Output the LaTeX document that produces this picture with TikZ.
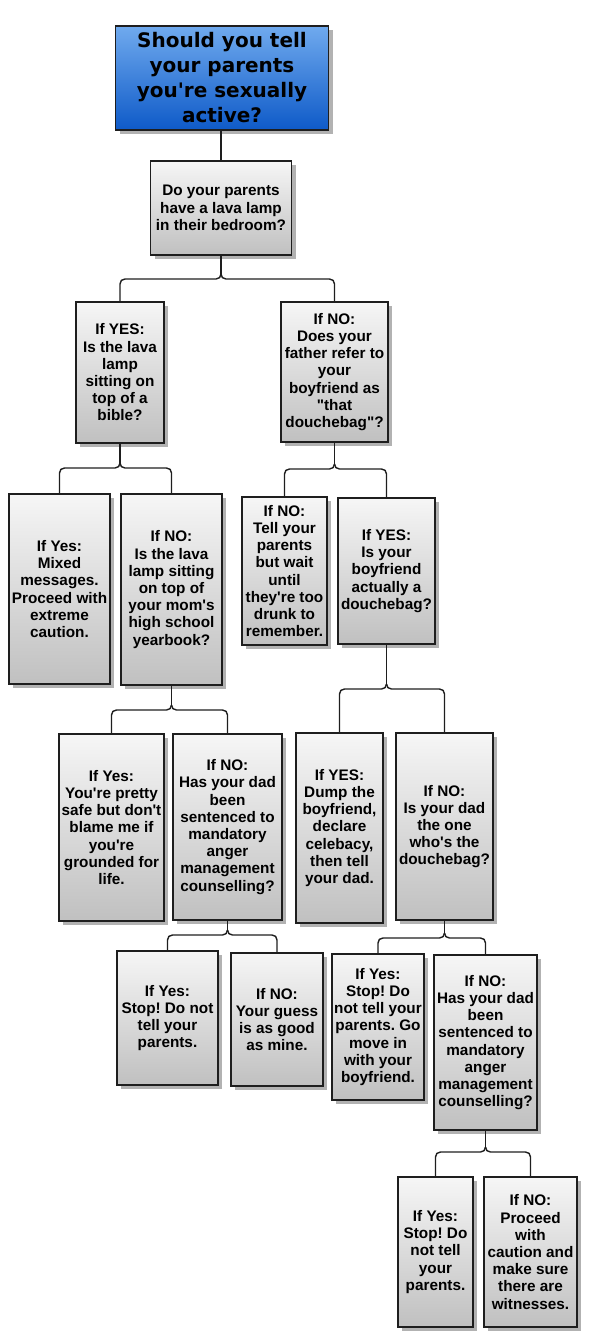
\documentclass[tikz,border=0pt]{standalone}
\usepackage{fontspec}
\setmainfont{Liberation Sans}[Ligatures=TeXOff]
\newfontfamily\titlefont{DejaVu Sans}[Ligatures=TeXOff]
\usetikzlibrary{shadows,calc}
\frenchspacing
\definecolor{boxtop}{RGB}{246,246,246}
\definecolor{boxbot}{RGB}{192,192,192}
\definecolor{bluetop}{RGB}{112,170,238}
\definecolor{bluebot}{RGB}{14,90,200}
\definecolor{linecol}{RGB}{30,30,30}
\tikzset{
  fcbox/.style={draw=linecol, line width=1.3pt, top color=boxtop, bottom color=boxbot,
    inner sep=0pt, align=center, font=\fontsize{15.3}{17.2}\selectfont\bfseries,
    drop shadow={shadow xshift=4pt, shadow yshift=-4pt, fill=black!30, opacity=1}},
  titlebox/.style={fcbox, top color=bluetop, bottom color=bluebot,
    font=\titlefont\fontsize{20}{25}\selectfont\bfseries},
  conn/.style={draw=linecol, line width=1.4pt}
}
\newcommand\fcbranch[4]{%
  \coordinate (tip) at (#1.south |- 0,#4);
  \draw[conn] (#1.south) -- ($(tip)+(0,-5)$);
  \draw[conn] (#2.north) -- ($(#2.north |- tip)+(0,5)$)
    .. controls ($(#2.north |- tip)+(0,2)$) and ($(#2.north |- tip)+(2,0)$) .. ($(#2.north |- tip)+(5,0)$)
    -- ($(tip)+(-5,0)$)
    .. controls ($(tip)+(-2,0)$) and ($(tip)+(0,-2)$) .. ($(tip)+(0,-5)$);
  \draw[conn] (#3.north) -- ($(#3.north |- tip)+(0,5)$)
    .. controls ($(#3.north |- tip)+(0,2)$) and ($(#3.north |- tip)+(-2,0)$) .. ($(#3.north |- tip)+(-5,0)$)
    -- ($(tip)+(5,0)$)
    .. controls ($(tip)+(2,0)$) and ($(tip)+(0,-2)$) .. ($(tip)+(0,-5)$);
}
\begin{document}
\begin{tikzpicture}[x=1pt,y=-1pt]
\useasboundingbox (0,0) rectangle (594,1344);
\node[titlebox, minimum width=213pt, minimum height=104pt] (top) at (222,78)
  {Should you tell\\your parents\\you're sexually\\active?};
\node[fcbox, minimum width=141pt, minimum height=94pt] (q1) at (221,208)
  {Do your parents\\have a lava lamp\\in their bedroom?};
\node[fcbox, minimum width=88pt, minimum height=141pt] (L1) at (120,372.5)
  {If YES:\\Is the lava\\lamp\\sitting on\\top of a\\bible?};
\node[fcbox, minimum width=107pt, minimum height=140pt] (R1) at (334.5,372)
  {If NO:\\Does your\\father refer to\\your\\boyfriend as\\"that\\douchebag"?};
\node[fcbox, minimum width=101pt, minimum height=190pt] (LL) at (59.5,589)
  {If Yes:\\Mixed\\messages.\\Proceed with\\extreme\\caution.};
\node[fcbox, minimum width=101pt, minimum height=191pt] (LR) at (171.5,589.5)
  {If NO:\\Is the lava\\lamp sitting\\on top of\\your mom's\\high school\\yearbook?};
\node[fcbox, minimum width=85pt, minimum height=148pt] (RL) at (284.5,571)
  {If NO:\\Tell your\\parents\\but wait\\until\\they're too\\drunk to\\remember.};
\node[fcbox, minimum width=97pt, minimum height=146pt] (RR) at (386.5,571)
  {If YES:\\Is your\\boyfriend\\actually a\\douchebag?};
\node[fcbox, minimum width=105pt, minimum height=187pt] (LRL) at (111.5,827.5)
  {If Yes:\\You're pretty\\safe but don't\\blame me if\\you're\\grounded for\\life.};
\node[fcbox, minimum width=109pt, minimum height=186pt] (LRR) at (227.5,827)
  {If NO:\\Has your dad\\been\\sentenced to\\mandatory\\anger\\management\\counselling?};
\node[fcbox, minimum width=87pt, minimum height=190pt] (RRL) at (339.5,828)
  {If YES:\\Dump the\\boyfriend,\\declare\\celebacy,\\then tell\\your dad.};
\node[fcbox, minimum width=97pt, minimum height=187pt] (RRR) at (444.5,826.5)
  {If NO:\\Is your dad\\the one\\who's the\\douchebag?};
\node[fcbox, minimum width=101pt, minimum height=134pt] (LRRL) at (167.5,1018)
  {If Yes:\\Stop! Do not\\tell your\\parents.};
\node[fcbox, minimum width=92pt, minimum height=133pt] (LRRR) at (277,1019.5)
  {If NO:\\Your guess\\is as good\\as mine.};
\node[fcbox, minimum width=92pt, minimum height=146pt] (RRRL) at (378,1027)
  {If Yes:\\Stop! Do\\not tell your\\parents. Go\\move in\\with your\\boyfriend.};
\node[fcbox, minimum width=103pt, minimum height=175pt] (RRRR) at (485.5,1042.5)
  {If NO:\\Has your dad\\been\\sentenced to\\mandatory\\anger\\management\\counselling?};
\node[fcbox, minimum width=75pt, minimum height=150pt] (F1) at (435.5,1252)
  {If Yes:\\Stop! Do\\not tell\\your\\parents.};
\node[fcbox, minimum width=93pt, minimum height=150pt] (F2) at (530.5,1252)
  {If NO:\\Proceed\\with\\caution and\\make sure\\there are\\witnesses.};
\draw[conn] (top.south -| q1.north) -- (q1.north);
\fcbranch{q1}{L1}{R1}{279}
\fcbranch{L1}{LL}{LR}{468}
\fcbranch{R1}{RL}{RR}{469}
\fcbranch{LR}{LRL}{LRR}{710}
\fcbranch{RR}{RRL}{RRR}{689}
\fcbranch{LRR}{LRRL}{LRRR}{935}
\fcbranch{RRR}{RRRL}{RRRR}{938}
\fcbranch{RRRR}{F1}{F2}{1152}
\end{tikzpicture}
\end{document}
